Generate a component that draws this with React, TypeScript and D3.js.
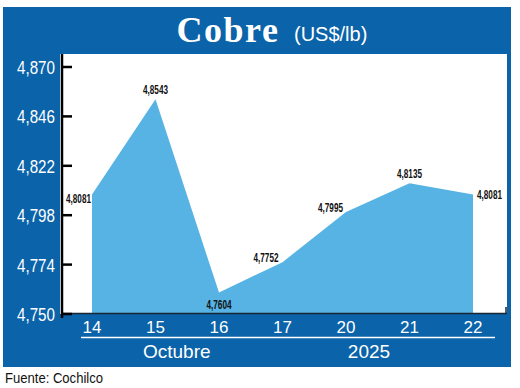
import React from "react";
import * as d3 from "d3";

// Precio del cobre, octubre 2025 (US$/lb)
const days = ["14", "15", "16", "17", "20", "21", "22"];
const prices = [4.8081, 4.8543, 4.7604, 4.7752, 4.7995, 4.8135, 4.8081];
const priceLabels = ["4,8081", "4,8543", "4,7604", "4,7752", "4,7995", "4,8135", "4,8081"];
const yTicks = [4.75, 4.774, 4.798, 4.822, 4.846, 4.87];

const BLUE = "#0b63a9";
const AREA = "#56b3e3";

// where each value label sits relative to its point: [dx, dy, anchor]
const labelPos: [number, number, string][] = [
  [-1, 9, "end"],
  [0, -5, "middle"],
  [0, 16, "middle"],
  [-4, 0, "end"],
  [-3, 0, "end"],
  [0, -5, "middle"],
  [4, 5, "start"],
];

export default function App() {
  const W = 520, H = 388;
  const x = d3.scalePoint<string>().domain(days).range([92, 473]);
  const y = d3.scaleLinear().domain([4.75, 4.87]).range([314, 67]);

  const pts = days.map((d, i) => ({ d, v: prices[i], lab: priceLabels[i] }));
  const area = d3.area<{ d: string; v: number }>()
    .x(p => x(p.d)!)
    .y0(y(4.75))
    .y1(p => y(p.v));

  const fmt = (v: number) => d3.format(".3f")(v).replace(".", ",");

  return (
    <svg width={W} height={H} style={{ position: "absolute", left: 0, top: 0 }}>
      <rect x={0} y={0} width={W} height={H} fill="#fff" />
      {/* blue frame */}
      <rect x={3} y={7} width={508} height={360} fill={BLUE} />
      {/* plot area */}
      <rect x={60} y={54} width={447} height={260} fill="#fff" />

      {/* title */}
      <text x={228} y={42} textAnchor="middle" fill="#fff"
        style={{ font: "bold 36px 'Liberation Serif'", letterSpacing: "1.5px" }}>Cobre</text>
      <text x={294} y={41} fill="#fff"
        style={{ font: "20px 'Liberation Sans'" }}>(US$/lb)</text>

      {/* area */}
      <path d={area(pts)!} fill={AREA} />

      {/* x axis line */}
      <line x1={62} x2={507} y1={313.5} y2={313.5} stroke="#1b2633" strokeWidth={1.5} />
      <line x1={506} x2={506} y1={307} y2={314} stroke="#1b2633" strokeWidth={1.5} />

      {/* y axis */}
      <line x1={62} x2={62} y1={54} y2={318} stroke="#000" strokeWidth={2.5} />
      {yTicks.map(t => (
        <g key={t}>
          <line x1={61} x2={72} y1={y(t)} y2={y(t)} stroke="#000" strokeWidth={2.5} />
          <text x={55} y={y(t) + 7} textAnchor="end" fill="#fff" textLength={38} lengthAdjust="spacingAndGlyphs"
            style={{ font: "19px 'Liberation Sans'" }}>{fmt(t)}</text>
        </g>
      ))}

      {/* value labels */}
      {pts.map((p, i) => (
        <text key={i} x={x(p.d)! + labelPos[i][0]} y={y(p.v) + labelPos[i][1]}
          textAnchor={labelPos[i][2] as any} fill="#111" textLength={25} lengthAdjust="spacingAndGlyphs"
          style={{ font: "bold 12px 'Liberation Sans'" }}>{p.lab}</text>
      ))}

      {/* x labels */}
      {days.map(d => (
        <text key={d} x={x(d)} y={333} textAnchor="middle" fill="#fff"
          style={{ font: "17px 'Liberation Sans'" }}>{d}</text>
      ))}
      <line x1={81} x2={495} y1={337.5} y2={337.5} stroke="#fff" strokeWidth={1.5} />
      <text x={143} y={358} fill="#fff" style={{ font: "19px 'Liberation Sans'" }}>Octubre</text>
      <text x={369} y={358} textAnchor="middle" fill="#fff" style={{ font: "19px 'Liberation Sans'" }}>2025</text>

      {/* source */}
      <text x={5} y={383} fill="#111" textLength={98} lengthAdjust="spacingAndGlyphs"
        style={{ font: "15px 'Liberation Sans'" }}>Fuente: Cochilco</text>
    </svg>
  );
}
